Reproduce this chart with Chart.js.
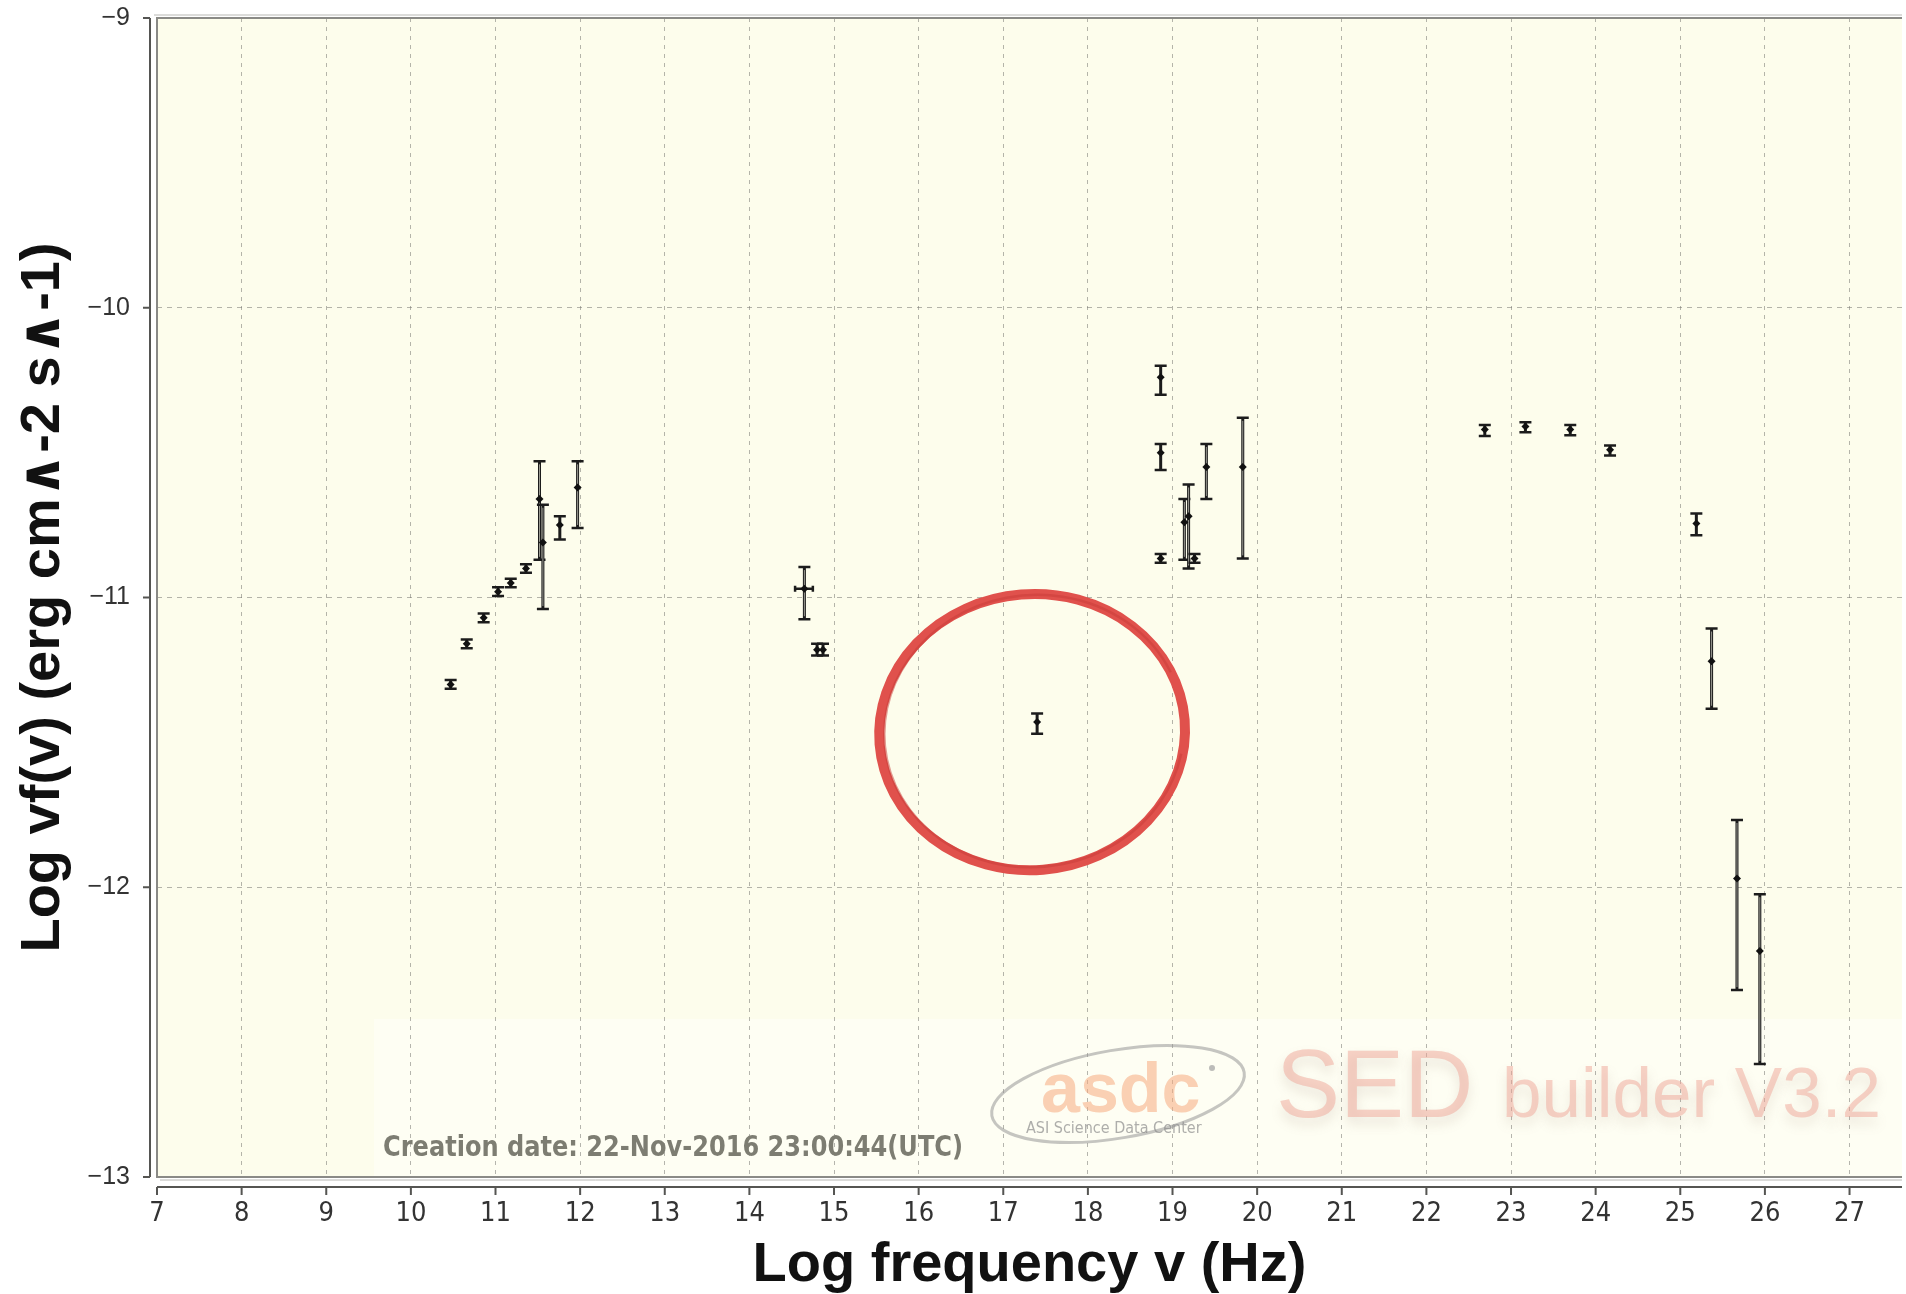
<!DOCTYPE html>
<html>
<head>
<meta charset="utf-8">
<title>SED</title>
<script src="https://cdn.jsdelivr.net/npm/chart.js@4.4.1/dist/chart.umd.min.js"></script>
<style>
  html, body { margin: 0; padding: 0; background: #fff; }
  #sed { display: block; }
</style>
</head>
<body>
<canvas id="sed" width="1906" height="1294"></canvas>
<script>
// Log frequency (Hz) of each measurement
const logFreq = [10.47, 10.66, 10.86, 11.03, 11.18, 11.36, 11.52, 11.56, 11.76, 11.97,
                 14.65, 14.80, 14.87, 17.40,
                 18.86, 18.86, 18.86, 19.14, 19.19, 19.26, 19.40, 19.83,
                 22.69, 23.17, 23.70, 24.17, 25.19, 25.37, 25.67, 25.94];
// Log nuF(nu) (erg cm^-2 s^-1)
const logFlux = [-11.30, -11.16, -11.07, -10.98, -10.95, -10.90, -10.66, -10.81, -10.75, -10.62,
                 -10.97, -11.18, -11.18, -11.43,
                 -10.24, -10.50, -10.865, -10.74, -10.72, -10.865, -10.55, -10.55,
                 -10.42, -10.41, -10.42, -10.49, -10.745, -11.22, -11.97, -12.22];
// flux error limits
const fluxLo = [-11.315, -11.175, -11.085, -10.995, -10.965, -10.915, -10.87, -11.04, -10.80, -10.76,
                -11.075, -11.20, -11.20, -11.47,
                -10.30, -10.56, -10.88, -10.87, -10.90, -10.88, -10.66, -10.865,
                -10.443, -10.43, -10.44, -10.51, -10.785, -11.384, -12.355, -12.61];
const fluxHi = [-11.285, -11.145, -11.055, -10.965, -10.935, -10.885, -10.53, -10.68, -10.72, -10.53,
                -10.895, -11.16, -11.16, -11.40,
                -10.20, -10.47, -10.85, -10.66, -10.61, -10.85, -10.47, -10.38,
                -10.405, -10.395, -10.405, -10.475, -10.71, -11.107, -11.768, -12.024];
// frequency error limits (only the optical point has one)
const freqLo = [null, null, null, null, null, null, null, null, null, null,
                14.54, null, null, null,
                null, null, null, null, null, null, null, null,
                null, null, null, null, null, null, null, null];
const freqHi = [null, null, null, null, null, null, null, null, null, null,
                14.75, null, null, null,
                null, null, null, null, null, null, null, null,
                null, null, null, null, null, null, null, null];

const xTicks = [7, 8, 9, 10, 11, 12, 13, 14, 15, 16, 17, 18, 19, 20, 21, 22, 23, 24, 25, 26, 27];
const yTicks = [-13, -12, -11, -10, -9];

const circledPoint = 13;   // the X-ray point marked in red
const creationDate = 'Creation date: 22-Nov-2016 23:00:44(UTC)';

// yellow plot background and white margins
const plotBackground = {
  id: 'plotBackground',
  beforeDraw(chart) {
    const { ctx, chartArea: a } = chart;
    ctx.save();
    ctx.fillStyle = '#ffffff';
    ctx.fillRect(0, 0, chart.width, chart.height);
    ctx.fillStyle = '#fdfdec';
    ctx.fillRect(a.left, a.top, a.right - a.left, a.bottom - a.top);
    // paler band behind the logo
    ctx.fillStyle = 'rgba(255,255,255,0.4)';
    ctx.fillRect(374, 1019, a.right - 374, a.bottom - 1019);
    ctx.restore();
  }
};

// creation stamp and builder logo
const watermark = {
  id: 'watermark',
  beforeDatasetsDraw(chart) {
    const { ctx } = chart;
    ctx.save();
    ctx.textBaseline = 'alphabetic';
    ctx.fillStyle = '#7d7d72';
    ctx.font = 'bold 28px "Liberation Sans Narrow", "DejaVu Sans Condensed", sans-serif';
    ctx.fillText(creationDate, 383, 1156, 580);

    // asdc swoosh
    ctx.strokeStyle = 'rgba(150,150,150,0.55)';
    ctx.lineWidth = 3;
    ctx.beginPath();
    ctx.ellipse(1118, 1094, 128, 44, -0.17, 0, Math.PI * 2);
    ctx.stroke();
    ctx.fillStyle = 'rgba(160,160,160,0.7)';
    ctx.beginPath();
    ctx.arc(1212, 1068, 3, 0, Math.PI * 2);
    ctx.fill();

    ctx.fillStyle = 'rgba(246,170,125,0.55)';
    ctx.font = 'bold 70px "Liberation Sans", sans-serif';
    ctx.fillText('asdc', 1041, 1112, 162);
    ctx.fillStyle = 'rgba(140,140,140,0.7)';
    ctx.font = '16px "Liberation Sans Narrow", "DejaVu Sans Condensed", sans-serif';
    ctx.fillText('ASI Science Data Center', 1026, 1133, 186);

    ctx.shadowColor = 'rgba(150,120,110,0.35)';
    ctx.shadowBlur = 12;
    ctx.shadowOffsetY = 7;
    ctx.fillStyle = 'rgba(240,165,152,0.5)';
    ctx.font = '96px "Liberation Sans", sans-serif';
    ctx.fillText('SED', 1276, 1117);
    ctx.font = '71px "Liberation Sans", sans-serif';
    ctx.fillText('builder V3.2', 1502, 1117, 382);
    ctx.restore();
  }
};

// vertical (and horizontal) error bars, drawn under the markers
const errorBars = {
  id: 'errorBars',
  beforeDatasetsDraw(chart) {
    const { ctx, scales: { x, y } } = chart;
    const cap = 6;
    ctx.save();
    ctx.strokeStyle = '#1c1c1c';
    logFreq.forEach((f, i) => {
      const px = x.getPixelForValue(f);
      const lo = y.getPixelForValue(fluxLo[i]);
      const hi = y.getPixelForValue(fluxHi[i]);
      ctx.lineWidth = 3;
      ctx.beginPath();
      ctx.moveTo(px, lo);
      ctx.lineTo(px, hi);
      ctx.stroke();
      ctx.lineWidth = 2.5;
      ctx.beginPath();
      ctx.moveTo(px - cap, lo); ctx.lineTo(px + cap, lo);
      ctx.moveTo(px - cap, hi); ctx.lineTo(px + cap, hi);
      ctx.stroke();
      if (lo - hi > 30) {
        // long bars have a grey core
        ctx.strokeStyle = '#9a9a92';
        ctx.lineWidth = 1;
        ctx.beginPath();
        ctx.moveTo(px, lo - 3);
        ctx.lineTo(px, hi + 3);
        ctx.stroke();
        ctx.strokeStyle = '#1c1c1c';
      }
      if (freqLo[i] !== null) {
        const py = y.getPixelForValue(logFlux[i]);
        const l = x.getPixelForValue(freqLo[i]);
        const r = x.getPixelForValue(freqHi[i]);
        ctx.lineWidth = 2.5;
        ctx.beginPath();
        ctx.moveTo(l, py); ctx.lineTo(r, py);
        ctx.moveTo(l, py - 3); ctx.lineTo(l, py + 3);
        ctx.moveTo(r, py - 3); ctx.lineTo(r, py + 3);
        ctx.stroke();
      }
    });
    ctx.restore();
  }
};

// plot frame, detached axis lines and tick marks
const axesFrame = {
  id: 'axesFrame',
  afterDraw(chart) {
    const { ctx, chartArea: a, scales: { x, y } } = chart;
    ctx.save();
    ctx.strokeStyle = '#8a8a86';
    ctx.lineWidth = 2;
    ctx.beginPath();
    ctx.moveTo(a.right, a.top); ctx.lineTo(a.left, a.top);
    ctx.lineTo(a.left, a.bottom); ctx.lineTo(a.right, a.bottom);
    ctx.stroke();
    ctx.strokeStyle = '#b8b8b4';
    ctx.lineWidth = 1;
    ctx.beginPath();
    ctx.moveTo(a.left - 3, a.top - 3); ctx.lineTo(a.right, a.top - 3);
    ctx.moveTo(a.left + 3, a.bottom + 3); ctx.lineTo(a.right, a.bottom + 3);
    ctx.stroke();

    const axX = a.left - 7;
    const axY = a.bottom + 10;
    ctx.strokeStyle = '#555552';
    ctx.lineWidth = 2;
    ctx.beginPath();
    ctx.moveTo(axX, a.top); ctx.lineTo(axX, a.bottom);
    ctx.moveTo(a.left, axY); ctx.lineTo(a.right, axY);
    yTicks.forEach(v => {
      const py = y.getPixelForValue(v);
      ctx.moveTo(axX, py); ctx.lineTo(axX - 7, py);
    });
    xTicks.forEach(v => {
      const px = x.getPixelForValue(v);
      ctx.moveTo(px, axY); ctx.lineTo(px, axY + 8);
    });
    ctx.stroke();
    ctx.restore();
  }
};

// red ring around the X-ray point
const highlightRing = {
  id: 'highlightRing',
  afterDraw(chart) {
    const { ctx, scales: { x, y } } = chart;
    const cx = x.getPixelForValue(logFreq[circledPoint]) - 5;
    const cy = y.getPixelForValue(logFlux[circledPoint]) + 10;
    ctx.save();
    ctx.strokeStyle = '#e0514c';
    ctx.lineWidth = 10;
    ctx.beginPath();
    ctx.ellipse(cx, cy, 153, 138, -0.08, 0, Math.PI * 2);
    ctx.stroke();
    ctx.strokeStyle = 'rgba(200,60,55,0.5)';
    ctx.lineWidth = 2.5;
    ctx.beginPath();
    ctx.ellipse(cx + 2, cy - 1, 150, 136, -0.12, 0.3, Math.PI * 1.9);
    ctx.stroke();
    ctx.restore();
  }
};

const points = logFreq.map((f, i) => ({ x: f, y: logFlux[i] }));

new Chart(document.getElementById('sed'), {
  type: 'scatter',
  data: {
    datasets: [{
      data: points,
      pointStyle: 'rectRot',
      pointRadius: 4,
      backgroundColor: '#111111',
      borderColor: '#111111',
      borderWidth: 0
    }]
  },
  options: {
    responsive: false,
    animation: false,
    layout: { padding: { top: 18, left: 0, right: 0, bottom: 0 } },
    plugins: {
      legend: { display: false },
      tooltip: { enabled: false }
    },
    scales: {
      x: {
        type: 'linear',
        min: 7,
        max: 27.62,
        afterBuildTicks: scale => { scale.ticks = xTicks.map(v => ({ value: v })); },
        afterFit: scale => {
          scale.height = 117;
          scale.paddingLeft = 0;
          scale.paddingRight = 0;
        },
        grid: { color: 'rgba(120,120,115,0.55)', lineWidth: 1, drawTicks: false },
        border: { display: false, dash: [4, 5] },
        ticks: {
          padding: 21,
          color: '#333333',
          maxRotation: 0,
          font: { family: '"Liberation Sans Narrow", "DejaVu Sans Condensed", sans-serif', size: 27 }
        },
        title: {
          display: true,
          text: 'Log frequency v (Hz)',
          color: '#111111',
          padding: 0,
          font: { family: '"Liberation Sans", sans-serif', size: 56, weight: 'bold', lineHeight: 1 }
        }
      },
      y: {
        type: 'linear',
        min: -13,
        max: -9,
        afterBuildTicks: scale => { scale.ticks = yTicks.map(v => ({ value: v })); },
        afterFit: scale => {
          scale.width = 157;
          scale.paddingTop = 0;
          scale.paddingBottom = 0;
        },
        grid: { color: 'rgba(120,120,115,0.55)', lineWidth: 1, drawTicks: false },
        border: { display: false, dash: [5, 5] },
        ticks: {
          padding: 27,
          color: '#333333',
          font: { family: '"Liberation Sans", sans-serif', size: 25 },
          callback: v => String(v).replace('-', '\u2212')
        },
        title: {
          display: true,
          text: 'Log vf(v) (erg cm∧-2 s∧-1)',
          color: '#111111',
          padding: { top: 16, bottom: 0 },
          font: { family: '"Liberation Sans", "DejaVu Sans", sans-serif', size: 56, weight: 'bold', lineHeight: 1 }
        }
      }
    }
  },
  plugins: [plotBackground, watermark, errorBars, axesFrame, highlightRing]
});
</script>
</body>
</html>
